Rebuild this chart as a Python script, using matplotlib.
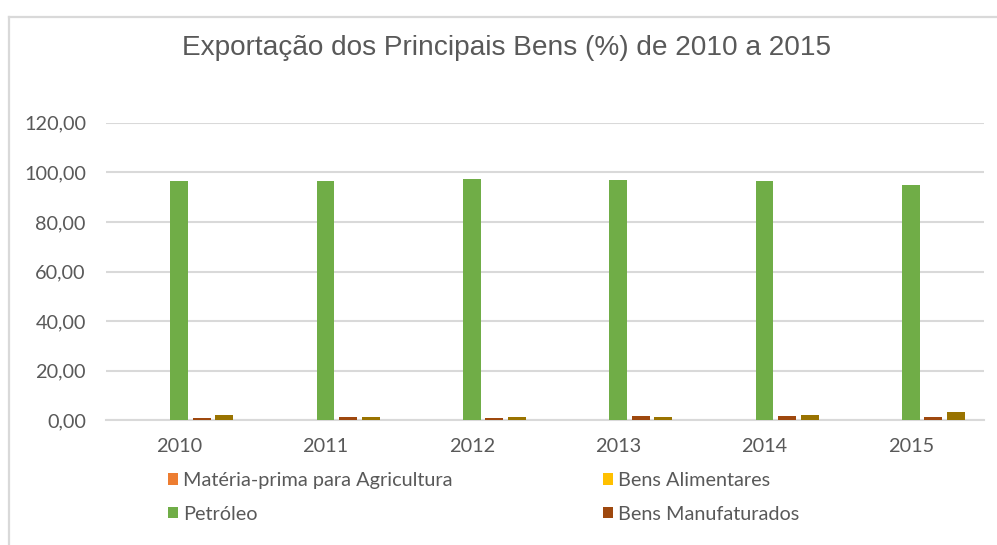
import matplotlib
matplotlib.use("Agg")
import matplotlib.pyplot as plt
import numpy as np
from matplotlib.lines import Line2D

years = ["2010", "2011", "2012", "2013", "2014", "2015"]
materia_prima = [0.0, 0.0, 0.0, 0.0, 0.0, 0.0]
bens_alimentares = [0.0, 0.0, 0.0, 0.0, 0.0, 0.0]
petroleo = [96.4, 96.4, 97.1, 96.7, 96.5, 94.9]
bens_manufaturados = [0.9, 1.45, 1.05, 1.6, 1.6, 1.45]
outros = [2.0, 1.45, 1.45, 1.45, 2.0, 3.3]

series = [
    ("Matéria-prima para Agricultura", materia_prima, "#ED7D31"),
    ("Bens Alimentares", bens_alimentares, "#FFC000"),
    ("Petróleo", petroleo, "#70AD47"),
    ("Bens Manufaturados", bens_manufaturados, "#9E480E"),
    ("Outros", outros, "#997300"),
]
yticks = [0, 20, 40, 60, 80, 100, 120]
ytick_labels = ["0,00", "20,00", "40,00", "60,00", "80,00", "100,00", "120,00"]

text_color = "#595959"
grid_color = "#D9D9D9"
body_font = ["Lato", "DejaVu Sans"]
body_size = 14.3

W, H = 997, 545
fig = plt.figure(figsize=(W / 100, H / 100), dpi=100)
ax = fig.add_axes([106 / W, (H - 420.3) / H, (984 - 106) / W, (420.3 - 122.7) / H])

x = np.arange(len(years))
slot = 0.154
bw = 0.123
containers = []
for i, (name, vals, col) in enumerate(series):
    c = ax.bar(x + (i - 2) * slot, vals, width=bw, color=col, label=name, zorder=3)
    containers.append(c)

ax.set_xlim(-0.5, len(years) - 0.5)
ax.set_ylim(0, 120)
ax.set_yticks(yticks)
ax.set_yticklabels(ytick_labels)
ax.set_xticks(x)
ax.set_xticklabels(years)
ax.yaxis.grid(True, color=grid_color, linewidth=1.5, zorder=0)
ax.set_axisbelow(True)
for s in ["top", "right", "left"]:
    ax.spines[s].set_visible(False)
ax.spines["bottom"].set_color(grid_color)
ax.spines["bottom"].set_linewidth(1.5)
ax.tick_params(axis="both", length=0, colors=text_color, labelsize=body_size)
ax.tick_params(axis="y", pad=14.5)
ax.tick_params(axis="x", pad=12.5)
for lab in ax.get_xticklabels() + ax.get_yticklabels():
    lab.set_family(body_font)

fig.text(506 / W, 1 - 48 / H, "Exportação dos Principais Bens (%) de 2010 a 2015",
         ha="center", va="center", fontsize=20.2, color=text_color,
         family=["Liberation Sans", "DejaVu Sans"])

handles = [containers[0], containers[2], containers[1], containers[3]]
labels = [series[0][0], series[2][0], series[1][0], series[3][0]]
leg = fig.legend(handles, labels, ncol=2, loc="upper left",
                 bbox_to_anchor=(168 / W, 1 - 472 / H), frameon=False,
                 prop={"family": body_font, "size": body_size},
                 handlelength=0.5, handleheight=0.5, handletextpad=0.25,
                 columnspacing=7.6, labelspacing=0.85, borderpad=0, borderaxespad=0)
for t in leg.get_texts():
    t.set_color(text_color)

# chart area border (extends beyond right/bottom edges)
fig.add_artist(Line2D([8.5 / W, 8.5 / W], [0, 1 - 16.5 / H], transform=fig.transFigure,
                      color=grid_color, linewidth=1.6))
fig.add_artist(Line2D([8.5 / W, 1], [1 - 16.5 / H, 1 - 16.5 / H], transform=fig.transFigure,
                      color=grid_color, linewidth=1.6))

fig.savefig("out.png", dpi=100)
